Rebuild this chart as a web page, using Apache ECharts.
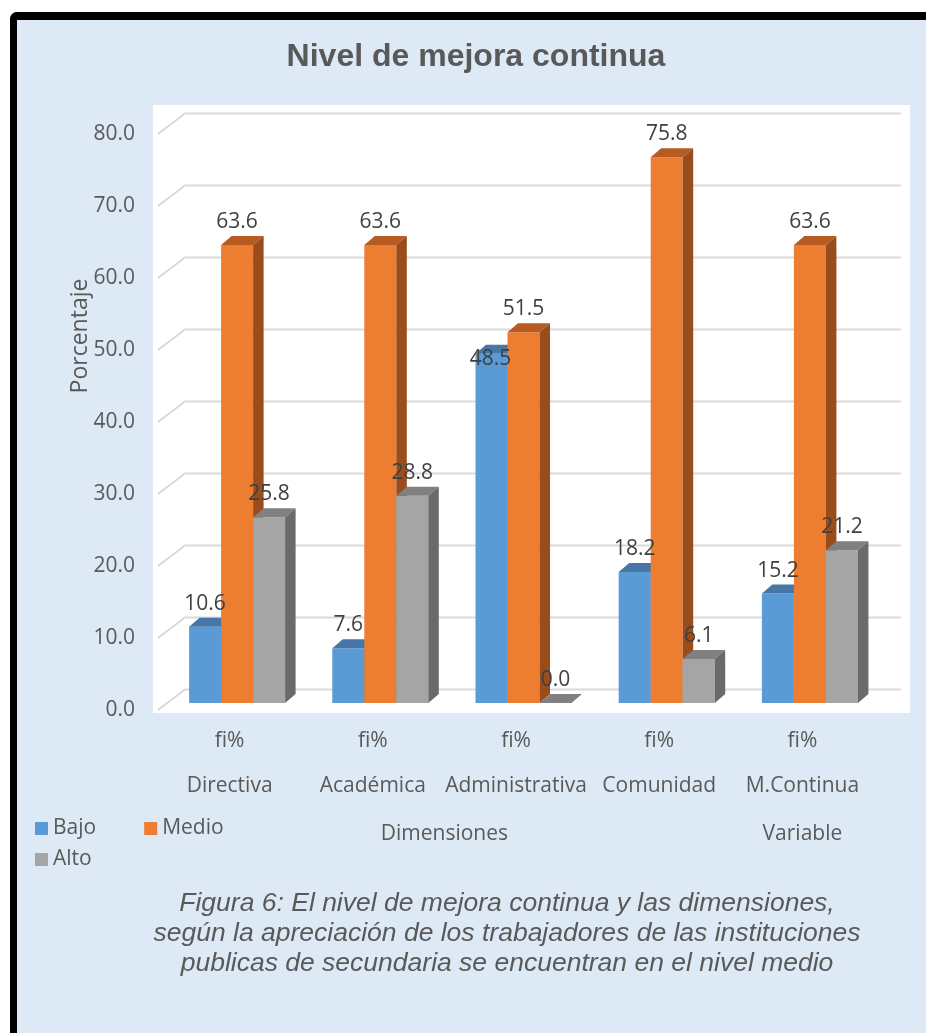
<!DOCTYPE html>
<html>
<head>
<meta charset="utf-8">
<script src="https://cdn.jsdelivr.net/npm/echarts@6/dist/echarts.min.js"></script>
<style>
  html, body { margin: 0; padding: 0; background: #DDE9F5; overflow: hidden; }
  #chart { width: 926px; height: 1033px; }
</style>
</head>
<body>
<div id="chart"></div>
<script>
// ---- data ----
const categories = ['Directiva', 'Académica', 'Administrativa', 'Comunidad', 'M.Continua'];
const subLabels = ['fi%', 'fi%', 'fi%', 'fi%', 'fi%'];
const seriesNames = ['Bajo', 'Medio', 'Alto'];
const bajo = [10.6, 7.6, 48.5, 18.2, 15.2];
const medio = [63.6, 63.6, 51.5, 75.8, 63.6];
const alto = [25.8, 28.8, 0.0, 6.1, 21.2];
const yTicks = [0, 10, 20, 30, 40, 50, 60, 70, 80];
const groupNames = ['Dimensiones', 'Variable'];
const groupSpans = [[0, 3], [4, 4]];

// ---- styling ----
const FONT = '"Open Sans", "Noto Sans", sans-serif';
const ARIAL = '"Liberation Sans", Arial, sans-serif';
const TEXT = '#595959';
const LABEL = '#404040';
const PANEL = '#DDE9F5';
const faces = [
  { front: '#5B9BD5', top: '#4677A6', side: '#3A6590' },
  { front: '#ED7D31', top: '#B65B21', side: '#9A4C1B' },
  { front: '#A5A5A5', top: '#808080', side: '#6A6A6A' }
];
// pseudo-3D geometry (pixels)
const WALL_DX = 27, WALL_DY = -20.5;   // back wall offset from the front plane
const BAR_DX = 7.5, BAR_DY = -7;       // bar front faces sit a little inside the box
const DEPTH_DX = 10.5, DEPTH_DY = -9;  // bar depth
const BAR_FRAC = 0.2235;               // bar width as a share of the category band
const LABEL_GAP = 23;
const labelNudge = { 'Administrativa|Bajo': [-1, 28] };

function makeBar(k) {
  const f = faces[k];
  return function (params, api) {
    const i = api.value(0);
    const v = api.value(1);
    const base = api.coord([i, 0]);
    const top = api.coord([i, v]);
    const band = api.size([1, 0])[0];
    const w = band * BAR_FRAC;
    const cx = base[0] + BAR_DX;
    const x0 = cx - 1.5 * w + k * w;
    const x1 = x0 + w;
    const yb = base[1] + BAR_DY;
    const yt = top[1] + BAR_DY;
    const nudge = labelNudge[categories[i] + '|' + seriesNames[k]] || [0, 0];
    return {
      type: 'group',
      children: [
        { type: 'rect', shape: { x: x0, y: yt, width: w, height: yb - yt }, style: { fill: f.front } },
        { type: 'polygon', shape: { points: [[x0, yt], [x1, yt], [x1 + DEPTH_DX, yt + DEPTH_DY], [x0 + DEPTH_DX, yt + DEPTH_DY]] }, style: { fill: f.top } },
        { type: 'polygon', shape: { points: [[x1, yt], [x1 + DEPTH_DX, yt + DEPTH_DY], [x1 + DEPTH_DX, yb + DEPTH_DY], [x1, yb]] }, style: { fill: f.side } },
        {
          type: 'text', z2: 50,
          style: {
            text: v.toFixed(1), x: x0 + w / 2 + nudge[0], y: yt - LABEL_GAP + nudge[1],
            align: 'center', verticalAlign: 'middle',
            fill: LABEL, fontSize: 21, fontFamily: FONT
          }
        }
      ]
    };
  };
}

function renderGridLine(params, api) {
  const cs = params.coordSys;
  const y = api.coord([0, api.value(1)])[1];
  return {
    type: 'polyline',
    shape: { points: [[cs.x, y], [cs.x + WALL_DX, y + WALL_DY], [cs.x + cs.width + WALL_DX, y + WALL_DY]] },
    style: { stroke: '#D9D9D9', lineWidth: 2, fill: null }
  };
}

const seriesValues = [bajo, medio, alto];

const chart = echarts.init(document.getElementById('chart'), null, { renderer: 'canvas' });

const option = {
  animation: false,
  backgroundColor: '#ffffff',
  textStyle: { fontFamily: FONT },
  graphic: [
    // light blue panel with a heavy black edge along its top and left
    { type: 'rect', id: 'panel', z: -9, shape: { x: 10, y: 12, width: 916, height: 1021, r: [8, 0, 0, 0] }, style: { fill: PANEL } },
    { type: 'rect', id: 'edgeTop', z: -8, shape: { x: 10, y: 12, width: 916, height: 8, r: [8, 0, 0, 0] }, style: { fill: '#000000' } },
    { type: 'rect', id: 'edgeLeft', z: -8, shape: { x: 10, y: 12, width: 7, height: 1021, r: [8, 0, 0, 0] }, style: { fill: '#000000' } },
    { type: 'rect', id: 'plot', z: -7, shape: { x: 153, y: 105, width: 757, height: 608 }, style: { fill: '#ffffff' } },
    {
      type: 'text', id: 'title', x: 476, y: 57,
      style: { text: 'Nivel de mejora continua', align: 'center', verticalAlign: 'middle', fill: TEXT, fontSize: 32, fontWeight: 'bold', fontFamily: ARIAL }
    },
    {
      type: 'text', id: 'ytitle', x: 80, y: 336, rotation: Math.PI / 2,
      style: { text: 'Porcentaje', align: 'center', verticalAlign: 'middle', fill: TEXT, fontSize: 23, fontFamily: FONT }
    },
    {
      type: 'text', id: 'caption', x: 507, y: 934,
      style: {
        text: 'Figura 6: El nivel de mejora continua y las dimensiones,\nsegún la apreciación de los trabajadores de las instituciones\npublicas de secundaria se encuentran en el nivel medio',
        align: 'center', verticalAlign: 'middle', lineHeight: 30,
        fill: TEXT, fontSize: 26.5, fontStyle: 'italic', fontFamily: ARIAL
      }
    }
  ],
  legend: [
    {
      data: ['Bajo', 'Medio'], left: 35, top: 818, padding: 0, itemGap: 48,
      itemWidth: 13, itemHeight: 13, icon: 'rect', selectedMode: false,
      textStyle: { color: TEXT, fontSize: 21, fontFamily: FONT }
    },
    {
      data: ['Alto'], left: 35, top: 849, padding: 0,
      itemWidth: 13, itemHeight: 13, icon: 'rect', selectedMode: false,
      textStyle: { color: TEXT, fontSize: 21, fontFamily: FONT }
    }
  ],
  grid: { left: 158, top: 134, width: 716, height: 576, containLabel: false },
  xAxis: {
    type: 'category',
    data: categories,
    axisLine: { show: false },
    axisTick: { show: false },
    splitLine: { show: false },
    axisLabel: {
      interval: 0, margin: 9,
      formatter: (v, i) => '{s|' + subLabels[i] + '}\n{c|' + v + '}',
      rich: {
        s: { fontSize: 21, lineHeight: 45, color: TEXT, fontFamily: FONT },
        c: { fontSize: 21, lineHeight: 45, color: TEXT, fontFamily: FONT }
      }
    }
  },
  yAxis: {
    type: 'value', min: 0, max: 80, interval: 10,
    axisLine: { show: false },
    axisTick: { show: false },
    splitLine: { show: false },
    axisLabel: { formatter: v => v.toFixed(1), color: TEXT, fontSize: 21, margin: 23, padding: [5, 0, 0, 0], fontFamily: FONT }
  },
  series: [
    {
      type: 'custom', name: 'grid-lines', z: 1, silent: true,
      data: yTicks.map(v => [0, v]),
      encode: { x: 0, y: 1 },
      renderItem: renderGridLine
    }
  ].concat(seriesNames.map((name, k) => ({
    type: 'custom', name: name, z: 2,
    itemStyle: { color: faces[k].front },
    data: seriesValues[k].map((v, i) => [i, v]),
    encode: { x: 0, y: 1 },
    renderItem: makeBar(k)
  })))
};

chart.setOption(option);

// group captions under the category labels
const groupGraphics = groupNames.map((name, g) => {
  const a = chart.convertToPixel({ gridIndex: 0 }, [groupSpans[g][0], 0]);
  const b = chart.convertToPixel({ gridIndex: 0 }, [groupSpans[g][1], 0]);
  return {
    type: 'text', id: 'group' + g, x: (a[0] + b[0]) / 2, y: a[1] + 124,
    style: { text: name, align: 'center', verticalAlign: 'middle', fill: TEXT, fontSize: 21, fontFamily: FONT }
  };
});
chart.setOption({ graphic: groupGraphics });
</script>
</body>
</html>
